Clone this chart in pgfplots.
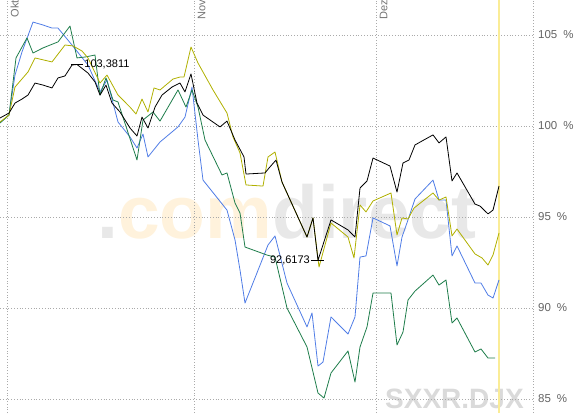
\documentclass[border=0pt]{standalone}
\usepackage{pgfplots}
\pgfplotsset{compat=1.18}
\usepackage{fontspec}
\setmainfont{Liberation Sans}
\definecolor{cblack}{RGB}{0,0,0}
\definecolor{cyellow}{RGB}{176,176,0}
\definecolor{cblue}{RGB}{80,125,230}
\definecolor{cgreen}{RGB}{30,125,75}
\definecolor{wmgray}{RGB}{232,232,232}
\definecolor{wmorange}{RGB}{255,242,220}
\definecolor{sxgray}{RGB}{218,218,218}
\definecolor{labelgray}{RGB}{100,100,100}
\definecolor{monthgray}{RGB}{115,115,115}
\definecolor{gridgray}{RGB}{170,170,170}
\definecolor{vyellow}{RGB}{250,236,150}
\begin{document}
\begin{tikzpicture}
\useasboundingbox (0,0) rectangle (580pt,413pt);
% watermarks
\node[anchor=base west, inner sep=0pt, font=\fontsize{75}{75}\selectfont\bfseries] at (97pt,175pt)
  {\textcolor{wmgray}{.}\textcolor{wmorange}{com}\textcolor{wmgray}{direct}};
\node[anchor=base west, inner sep=0pt, font=\fontsize{28}{28}\selectfont\bfseries, text=sxgray] at (385pt,5pt) {SXXR.DJX};
\begin{axis}[
  at={(0pt,0pt)}, anchor=south west,
  scale only axis, width=533pt, height=413pt,
  xmin=0, xmax=533, ymin=84.231, ymax=106.923,
  xtick={7,194,376,533}, xticklabels={},
  ytick={85,90,95,100,105},
  yticklabels={85\hspace{6pt}\%,90\hspace{6pt}\%,95\hspace{6pt}\%,100\hspace{6pt}\%,105\hspace{6pt}\%},
  yticklabel pos=right,
  yticklabel style={anchor=west, xshift=5pt, inner sep=0pt, text=labelgray, font=\fontsize{11.5}{13}\selectfont},
  major tick length=0pt,
  grid=major,
  grid style={gridgray, dash pattern=on 0.8pt off 2pt, line width=0.7pt},
  axis line style={draw=none},
  clip=true,
  every axis plot/.append style={line width=0.8pt, line join=round, mark=none},
]
\draw[vyellow, line width=1.8pt] (axis cs:499,84.231) -- (axis cs:499,106.923);
% blue
\addplot[cblue] coordinates {
(0,100.17)(9,100.60)(15,102.80)(22,104.07)(33,105.71)(43,105.55)(52,105.38)(58,105.38)(72,104.45)(80,103.90)(88,103.35)(100,101.87)(107,102.53)(118,100.22)(130,99.40)(137,98.79)(143,99.56)(148,98.30)(160,99.12)(178,99.95)(185,100.49)(192,102.14)(198,99.23)(203,97.03)(227,95.38)(235,93.74)(240,92.09)(245,90.27)(268,93.46)(275,93.96)(287,91.37)(307,88.96)(312,89.73)(318,86.81)(323,87.03)(331,89.51)(348,88.57)(355,89.51)(360,92.80)(366,92.86)(373,94.95)(390,94.51)(397,92.31)(402,93.90)(408,94.84)(415,95.99)(433,97.03)(439,95.93)(446,95.93)(452,92.86)(457,93.41)(475,91.37)(481,91.37)(488,90.71)(493,90.55)(499,91.54)
};
% green
\addplot[cgreen] coordinates {
(0,100.17)(9,100.60)(16,103.74)(27,104.84)(33,104.01)(43,104.29)(58,104.62)(70,105.49)(77,103.74)(85,103.79)(95,103.90)(100,101.70)(106,102.64)(113,101.43)(118,101.32)(137,98.13)(143,100.33)(153,100.77)(160,100.27)(178,101.98)(186,101.04)(192,101.98)(198,101.04)(205,99.23)(222,97.31)(227,97.42)(235,95.77)(240,95.22)(245,93.35)(267,92.91)(275,92.80)(287,90.00)(307,87.86)(318,85.33)(324,85.05)(331,86.43)(348,87.64)(355,85.93)(360,87.86)(367,88.96)(373,90.82)(391,90.82)(397,87.97)(403,88.68)(408,90.44)(415,90.93)(433,91.81)(439,91.26)(446,91.54)(452,89.18)(457,89.45)(475,87.58)(481,87.75)(488,87.25)(495,87.25)
};
% yellow
\addplot[cyellow] coordinates {
(0,100.22)(9,100.60)(15,102.14)(28,102.97)(35,103.74)(52,103.52)(65,104.45)(73,104.40)(82,104.12)(88,103.74)(100,102.36)(107,102.80)(118,101.70)(130,101.04)(136,100.66)(142,101.48)(148,100.77)(154,102.09)(160,101.98)(173,102.58)(180,102.69)(184,102.69)(191,104.34)(198,103.46)(213,101.98)(227,100.71)(233,99.40)(240,98.52)(246,96.76)(263,96.70)(268,98.30)(275,98.57)(282,96.92)(307,93.90)(313,94.95)(319,92.25)(331,94.67)(348,93.90)(354,92.75)(360,95.66)(366,95.28)(373,95.88)(391,96.32)(397,94.01)(402,94.95)(408,94.89)(414,95.49)(433,96.32)(439,95.93)(446,96.10)(452,93.96)(457,94.34)(475,92.97)(482,92.75)(488,92.36)(493,92.91)(499,94.12)
};
% black
\addplot[cblack] coordinates {
(0,100.44)(9,100.71)(15,101.26)(22,101.48)(28,101.70)(35,102.36)(43,102.25)(52,102.09)(58,102.64)(65,102.75)(72,103.35)(77,103.38)(88,102.91)(95,102.42)(100,101.70)(106,102.25)(112,101.26)(120,100.77)(130,99.89)(137,99.45)(142,100.49)(148,99.89)(155,101.04)(162,101.70)(172,102.14)(180,102.36)(185,101.87)(191,102.86)(197,101.26)(203,100.60)(220,99.95)(227,100.27)(235,99.23)(244,98.30)(246,97.36)(265,97.42)(269,97.69)(276,98.13)(282,96.92)(307,93.90)(313,94.95)(318,92.62)(331,94.84)(348,94.29)(355,93.90)(360,96.59)(367,96.98)(373,98.24)(390,97.80)(397,96.37)(403,97.97)(409,98.13)(415,98.96)(433,99.51)(439,99.07)(446,99.40)(452,96.98)(457,97.42)(475,95.71)(480,95.60)(488,95.17)(493,95.38)(499,96.70)
};
% high / low annotations
\draw[black, line width=0.8pt] (axis cs:71,103.3811) -- (axis cs:83,103.3811)
  node[right, inner sep=1pt, font=\fontsize{11}{13}\selectfont] {103,3811};
\draw[black, line width=0.8pt] (axis cs:311,92.6173) -- (axis cs:324,92.6173);
\node[left, inner sep=1pt, font=\fontsize{11}{13}\selectfont] at (axis cs:311,92.6173) {92,6173};
% month labels
\node[rotate=90, anchor=north east, inner sep=0pt, text=monthgray, font=\fontsize{11}{13}\selectfont, yshift=-2pt] at (axis cs:8.5,106.923) {Okt};
\node[rotate=90, anchor=north east, inner sep=0pt, text=monthgray, font=\fontsize{11}{13}\selectfont, yshift=-2pt] at (axis cs:195.5,106.923) {Nov};
\node[rotate=90, anchor=north east, inner sep=0pt, text=monthgray, font=\fontsize{11}{13}\selectfont, yshift=-2pt] at (axis cs:377.5,106.923) {Dez};
\end{axis}
\end{tikzpicture}
\end{document}
